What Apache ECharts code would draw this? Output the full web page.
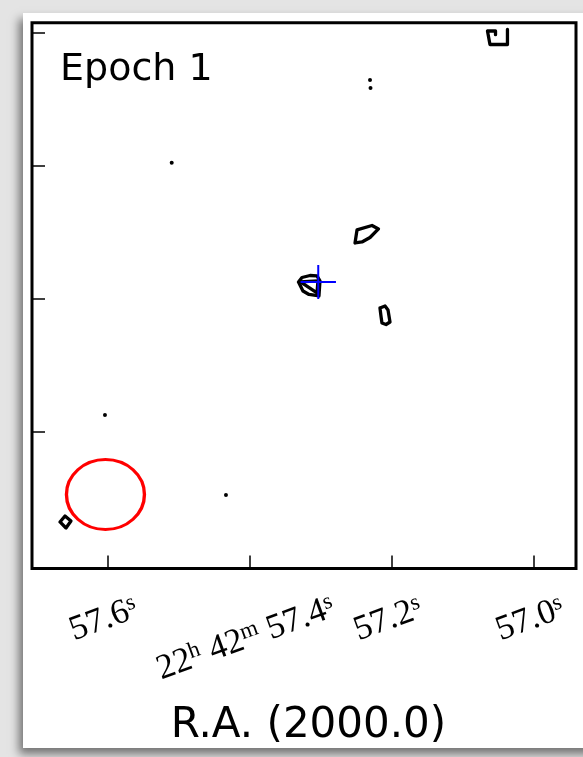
<!DOCTYPE html>
<html>
<head>
<meta charset="utf-8">
<script src="https://cdn.jsdelivr.net/npm/echarts@6/dist/echarts.min.js"></script>
<style>
  html, body { margin: 0; padding: 0; width: 583px; height: 757px; overflow: hidden; background: #e4e4e4; }
  #panel { position: absolute; left: 23px; top: 13px; width: 620px; height: 735px; background: #fff;
           box-shadow: -4px 6px 9px rgba(0,0,0,0.5); }
  #chart { position: absolute; left: 0; top: 0; width: 583px; height: 757px; }
</style>
</head>
<body>
<div id="panel"></div>
<div id="chart"></div>
<script>
// ---- axis ticks / labels (R.A. seconds, Dec offset arcsec) ----
const raTicks = [57.6, 57.4, 57.2, 57.0];
const raTickText = ['57.6', '57.4', '57.2', '57.0'];
const raTickPrefix = ['', '22h42m', '', ''];
const decTicks = [-2, 0, 2, 4];
const raRange = [56.9412, 57.7063];
const decRange = [-4.053, 4.153];

// ---- contours: [R.A. s, Dec offset arcsec] ----
const contourCore = [[57.3315,0.256],[57.3266,0.323],[57.3153,0.353],[57.3055,0.346],[57.3013,0.271],[57.3027,0.045],[57.3167,0.068],[57.3252,0.120],[57.3315,0.256]];
const contourCoreInner = [[57.3294,0.256],[57.3041,0.271],[57.3055,0.090],[57.3224,0.211],[57.3294,0.256]];
const contourNE = [[57.2520,0.842],[57.2492,1.038],[57.2281,1.105],[57.2190,1.053],[57.2309,0.925],[57.2422,0.857],[57.2520,0.842]];
const contourE = [[57.2169,-0.135],[57.2098,-0.105],[57.2056,-0.165],[57.2028,-0.346],[57.2084,-0.384],[57.2141,-0.361],[57.2155,-0.256],[57.2169,-0.135]];
const contourTopEdge = [[57.0376,4.053],[57.0376,3.827],[57.0622,3.827],[57.0657,4.030],[57.0544,4.030],[57.0544,3.975]];
const contourSW = [[57.6669,-3.353],[57.6599,-3.263],[57.6515,-3.338],[57.6585,-3.444],[57.6669,-3.353]];
const contourDots = [[57.2309,3.293],[57.2302,3.173],[57.5098,2.050],[57.6037,-1.744],[57.4335,-2.947]];

// ---- source position (cross) and beam ----
const sourcePos = [57.3037, 0.2556];
const crossHalf = [0.0249, 0.2556];
const beamCenter = [57.6030, -2.940];
const beamSize = [78, 70];

const chart = echarts.init(document.getElementById('chart'), null, { renderer: 'canvas' });

function tickIndex(v) {
  for (let i = 0; i < raTicks.length; i++) if (Math.abs(raTicks[i] - v) < 1e-6) return i;
  return -1;
}
function labelFmt(v) {
  const i = tickIndex(v);
  if (i < 0) return '';
  let s = '';
  if (raTickPrefix[i]) {
    s += '{n|22}{sup|h}{n| 42}{sup|m}{n| }';
  }
  s += '{n|' + raTickText[i] + '}{sup|s}';
  return s;
}
const labelRich = {
  n: { fontFamily: 'Liberation Serif', fontSize: 35, lineHeight: 36, color: '#000' },
  sup: { fontFamily: 'Liberation Serif', fontSize: 23, lineHeight: 19, verticalAlign: 'top', color: '#000' }
};

function contourSeries(data) {
  return {
    type: 'line', data: data, symbol: 'none', silent: true, animation: false,
    lineStyle: { color: '#000', width: 3.3, join: 'round', cap: 'round' }, z: 3
  };
}

const series = [
  contourSeries(contourCore),
  contourSeries(contourCoreInner),
  contourSeries(contourNE),
  contourSeries(contourE),
  contourSeries(contourTopEdge),
  contourSeries(contourSW),
  {
    type: 'scatter', data: contourDots, symbol: 'circle', symbolSize: 4, silent: true, animation: false,
    itemStyle: { color: '#000', opacity: 1 }
  },
  {
    type: 'line', silent: true, animation: false, symbol: 'none',
    data: [[sourcePos[0] + crossHalf[0], sourcePos[1]], [sourcePos[0] - crossHalf[0], sourcePos[1]]],
    lineStyle: { color: '#0000ff', width: 2 }, z: 4
  },
  {
    type: 'line', silent: true, animation: false, symbol: 'none',
    data: [[sourcePos[0], sourcePos[1] - crossHalf[1]], [sourcePos[0], sourcePos[1] + crossHalf[1]]],
    lineStyle: { color: '#0000ff', width: 2 }, z: 4
  },
  {
    type: 'scatter', silent: true, animation: false, data: [beamCenter], symbol: 'circle', symbolSize: beamSize,
    itemStyle: { color: 'rgba(0,0,0,0)', borderColor: '#ff0000', borderWidth: 3.2, opacity: 1 }, z: 2
  }
];

const option = {
  animation: false,
  grid: { left: 32, top: 22.8, width: 544, height: 545.7, show: true, borderColor: '#000', borderWidth: 3, backgroundColor: 'rgba(0,0,0,0)', containLabel: false },
  xAxis: [
    {
      type: 'value', min: raRange[0], max: raRange[1], inverse: true, position: 'bottom',
      axisLine: { show: false, onZero: false }, splitLine: { show: false },
      axisTick: { show: true, inside: true, length: 13, customValues: raTicks, lineStyle: { color: '#000', width: 1.5 } },
      axisLabel: { show: true, customValues: [raTicks[0], raTicks[2], raTicks[3]], rotate: 20, align: 'center', verticalAlign: 'middle', margin: 50, padding: [0, 8, 0, 0], formatter: labelFmt, rich: labelRich },
      name: 'R.A. (2000.0)', nameLocation: 'middle', nameGap: 158,
      nameTextStyle: { fontFamily: 'DejaVu Sans', fontSize: 42, color: '#000', verticalAlign: 'middle', padding: [0, 0, 0, 9] }
    },
    {
      type: 'value', min: raRange[0], max: raRange[1], inverse: true, position: 'bottom',
      axisLine: { show: false, onZero: false }, splitLine: { show: false }, axisTick: { show: false },
      axisLabel: { show: true, customValues: [raTicks[1]], rotate: 20, align: 'center', verticalAlign: 'middle', margin: 69, padding: [0, 8, 0, 0], formatter: labelFmt, rich: labelRich }
    }
  ],
  yAxis: {
    type: 'value', min: decRange[0], max: decRange[1], position: 'left',
    axisLine: { show: false, onZero: false }, splitLine: { show: false },
    axisTick: { show: true, inside: true, length: 13, customValues: decTicks, lineStyle: { color: '#000', width: 1.5 } },
    axisLabel: { show: false }
  },
  graphic: [
    {
      type: 'text', left: 60, top: 51, silent: true,
      style: { text: 'Epoch 1', fontFamily: 'DejaVu Sans', fontSize: 38, fill: '#000' }
    }
  ],
  series: series
};
chart.setOption(option);
</script>
</body>
</html>
